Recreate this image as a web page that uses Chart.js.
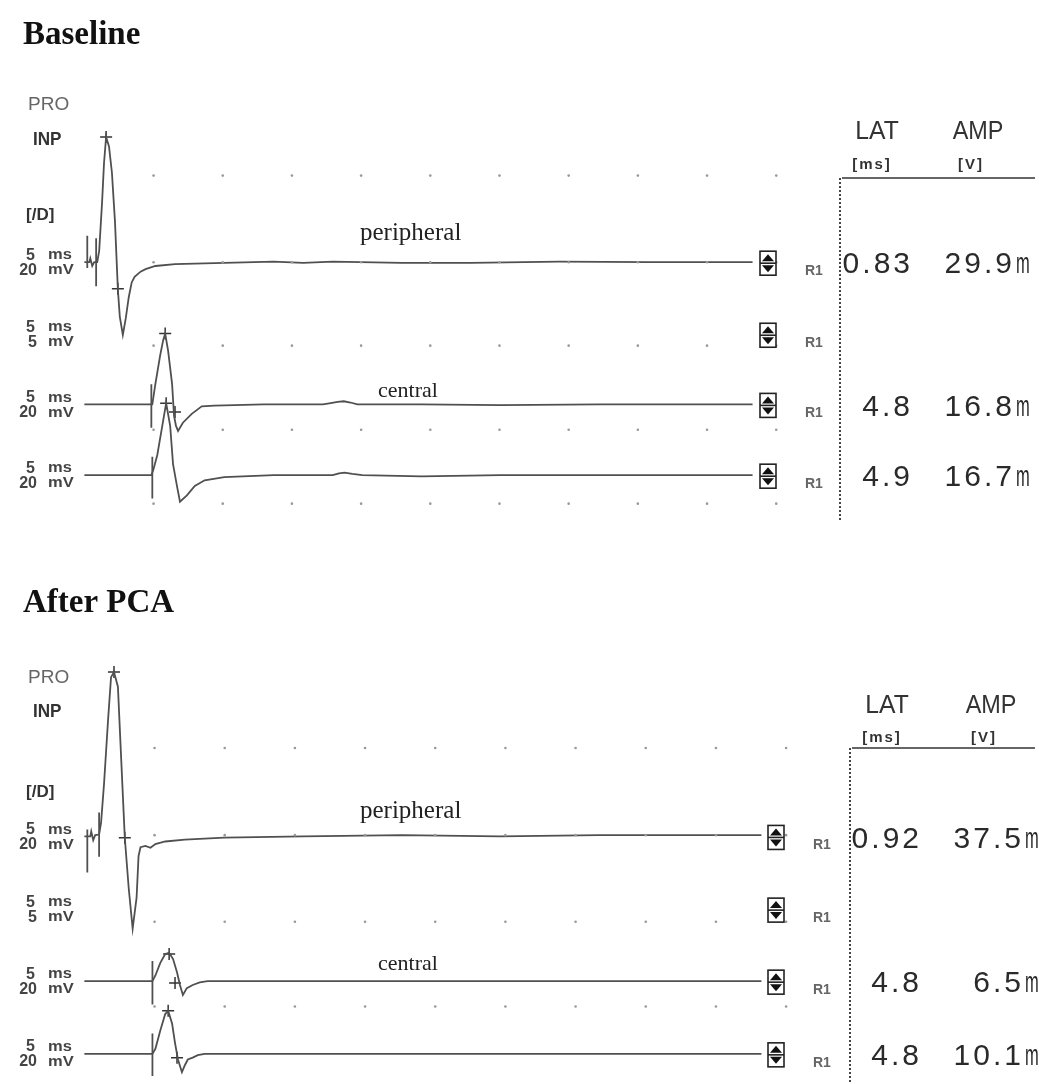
<!DOCTYPE html>
<html>
<head>
<meta charset="utf-8">
<script src="https://cdn.jsdelivr.net/npm/chart.js@4.4.1/dist/chart.umd.min.js"></script>
<style>
    body { margin: 0; background: #fff; }
    .panel { position: relative; width: 1039px; height: 542px; }
</style>
</head>
<body>
<div class="panel"><canvas id="baseline" width="1039" height="542"></canvas></div>
<div class="panel"><canvas id="afterPca" width="1039" height="542"></canvas></div>
<script>
// ==================== DONNEES ====================
// Chaque trace : [temps ms, amplitude mV] par rapport a sa ligne de base
const BASE_PERIPHERAL = [[0,0],[0.36,0],[0.43,0.6],[0.57,-0.6],[0.71,0],[0.93,0],[1.07,1.8],[1.28,9.5],[1.42,15.7],[1.57,19.8],[1.78,18.3],[1.99,14.2],[2.21,6.5],[2.42,-4.3],[2.56,-8.6],[2.78,-11.5],[2.99,-8.9],[3.21,-5.5],[3.42,-3.2],[3.63,-2.3],[4.06,-1.5],[4.42,-1.1],[5.13,-0.6],[6.55,-0.3],[8.69,-0.2],[13.68,0.1],[15.81,-0.1],[17.95,0.1],[22.93,-0.1],[27.92,-0.1],[34.33,0.1],[40.74,0],[48.29,0]];
const BASE_PERIPHERAL_MARKS = [[1.57,19.8],[2.42,-4.2]];
const BASE_PERIPHERAL_STIM = [[0.21,4.2,-0.9],[0.85,3.8,-3.8]];

const BASE_CENTRAL = [[0,0],[4.84,0],[4.91,0],[5.13,3.2],[5.48,7.8],[5.70,10.2],[5.84,11.2],[6.05,8.5],[6.34,3.2],[6.48,-1.8],[6.62,-3.4],[6.77,-4.2],[7.12,-2.9],[7.76,-1.5],[8.48,-0.3],[9.40,-0.2],[12.96,0],[17.24,0],[17.80,0.2],[18.30,0.4],[18.75,0.5],[19.23,0.3],[19.73,0],[24.36,0],[30.06,-0.1],[37.18,0],[48.29,0]];
const BASE_CENTRAL_MARKS = [[5.84,11.2],[6.55,-1.2]];
const BASE_CENTRAL_STIM = [[4.84,3.2,-3.7]];

const BASE_CENTRAL2 = [[0,0],[4.84,0],[4.99,0.9],[5.27,3.2],[5.63,7.8],[5.91,11.4],[6.20,7.8],[6.41,1.7],[6.70,-1.8],[6.91,-4.2],[7.41,-3.2],[7.98,-1.7],[8.69,-0.8],[10.11,-0.3],[13.68,0],[17.95,0],[18.40,0.3],[18.80,0.4],[19.37,0.2],[20.09,0],[24.36,-0.2],[30.06,0],[48.29,0]];
const BASE_CENTRAL2_MARKS = [[5.91,11.4]];
const BASE_CENTRAL2_STIM = [[4.91,2.9,-3.7]];

const PCA_PERIPHERAL = [[0,0],[0.42,0],[0.49,0.8],[0.63,-0.6],[0.77,0.2],[1.05,0.3],[1.19,2.2],[1.40,8.3],[1.69,18.5],[1.90,25.2],[2.11,26.0],[2.39,23.7],[2.60,13.4],[2.88,-0.2],[3.16,-8.2],[3.44,-14.6],[3.72,-9.7],[3.86,-3.1],[4.00,-1.7],[4.35,-1.5],[4.71,-1.8],[5.06,-1.2],[5.76,-0.8],[7.16,-0.5],[9.97,-0.2],[15.59,0],[22.61,0.2],[29.63,0],[36.66,0.2],[48.24,0.2]];
const PCA_PERIPHERAL_MARKS = [[2.11,26.0],[2.88,-0.2]];
const PCA_PERIPHERAL_STIM = [[0.21,1.1,-5.7],[1.05,3.8,-3.2]];

const PCA_CENTRAL = [[0,0],[4.85,0],[5.06,0.9],[5.41,2.9],[5.76,4.3],[6.04,4.5],[6.32,3.5],[6.60,1.4],[6.81,-0.6],[7.02,-2.2],[7.30,-1.1],[7.72,-0.6],[8.22,-0.2],[8.78,0],[48.24,0]];
const PCA_CENTRAL_MARKS = [[6.04,4.3],[6.46,-0.3]];
const PCA_CENTRAL_STIM = [[4.85,3.2,-3.7]];

const PCA_CENTRAL2 = [[0,0],[4.85,0],[5.06,0.8],[5.41,3.7],[5.76,6.3],[5.97,6.8],[6.25,4.8],[6.46,1.7],[6.67,-0.9],[6.95,-2.9],[7.16,-1.8],[7.37,-0.9],[7.72,-0.6],[8.08,-0.2],[8.57,0],[48.24,0]];
const PCA_CENTRAL2_MARKS = [[5.97,6.8],[6.60,-0.6]];
const PCA_CENTRAL2_STIM = [[4.85,3.2,-3.5]];

// lignes de base des 4 voies (mV, 0 = haut du panneau)
const BASE_ROWS = [-40.3, -51.7, -62.8, -74.0];
const PCA_ROWS = [-45.4, -56.9, -68.3, -79.8];

// grille pointillee
const GRID_MS = [5, 10, 15, 20, 25, 30, 35, 40, 45, 50];
const BASE_DOT_ROWS = [-26.6, -40.3, -53.5, -66.8, -78.5];
const PCA_DOT_ROWS = [-31.4, -45.2, -58.9, -72.3];

// echelles et resultats
const ROW_SCALES = [['5', 'ms', '20', 'mV'], ['5', 'ms', '5', 'mV'], ['5', 'ms', '20', 'mV'], ['5', 'ms', '20', 'mV']];
const BASE_LAT = ['0.83', '', '4.8', '4.9'];
const BASE_AMP = ['29.9', '', '16.8', '16.7'];
const PCA_LAT = ['0.92', '', '4.8', '4.8'];
const PCA_AMP = ['37.5', '', '6.5', '10.1'];

// ==================== MISE EN PAGE ====================
const W = 1039, H = 542, PX_PER_MV = 6.5, X0 = 78;
const TRACE_COLOR = '#505050';

function txt(ctx, s, x, y, font, color, align, baseline, sx, spacing) {
    ctx.save();
    ctx.font = font;
    ctx.fillStyle = color;
    ctx.textAlign = align || 'left';
    ctx.textBaseline = baseline || 'middle';
    if (spacing) ctx.letterSpacing = spacing;
    ctx.translate(x, y);
    ctx.scale(sx || 1, 1);
    ctx.fillText(s, 0, 0);
    ctx.restore();
}

function drawBox(ctx, cx, cy) {
    const w = 16, h = 24;
    ctx.save();
    ctx.fillStyle = '#fff';
    ctx.fillRect(cx - w / 2, cy - h / 2, w, h);
    ctx.strokeStyle = '#222';
    ctx.lineWidth = 1.6;
    ctx.strokeRect(cx - w / 2, cy - h / 2, w, h);
    ctx.beginPath();
    ctx.moveTo(cx - w / 2, cy);
    ctx.lineTo(cx + w / 2, cy);
    ctx.stroke();
    ctx.fillStyle = '#111';
    ctx.beginPath();
    ctx.moveTo(cx, cy - h / 2 + 3); ctx.lineTo(cx + 6, cy - 2); ctx.lineTo(cx - 6, cy - 2);
    ctx.fill();
    ctx.beginPath();
    ctx.moveTo(cx, cy + h / 2 - 3); ctx.lineTo(cx + 6, cy + 2); ctx.lineTo(cx - 6, cy + 2);
    ctx.fill();
    ctx.restore();
}

function panelPlugin(cfg) {
    return {
        id: 'panelText',
        afterDraw(chart) {
            const ctx = chart.ctx;
            const y = chart.scales.y;
            const L = cfg.layout;

            // titre
            txt(ctx, cfg.title, 23, L.titleY, 'bold 33px "Liberation Serif"', '#111', 'left', 'alphabetic');

            // entetes gauche
            txt(ctx, 'PRO', 28, L.pro, '19px "Liberation Sans"', '#666');
            txt(ctx, 'INP', 33, L.inp, 'bold 19px "Liberation Sans"', '#333', 'left', 'middle', 0.9);
            txt(ctx, '[/D]', 26, L.d, 'bold 17px "Liberation Sans"', '#333');

            // noms des voies
            L.names.forEach(([s, nx, ny, size]) => {
                txt(ctx, s, nx, ny, size + 'px "Liberation Serif"', '#222', 'left', 'alphabetic');
            });

            cfg.rows.forEach((row, i) => {
                const py = y.getPixelForValue(row);
                const sc = ROW_SCALES[i];
                txt(ctx, sc[0], 35, py - 7, 'bold 16px "Liberation Sans"', '#444', 'right');
                txt(ctx, sc[1], 48, py - 7, 'bold 15px "Liberation Sans"', '#444', 'left', 'middle', 1.1);
                txt(ctx, sc[2], 37, py + 8, 'bold 16px "Liberation Sans"', '#444', 'right');
                txt(ctx, sc[3], 48, py + 8, 'bold 15px "Liberation Sans"', '#444', 'left', 'middle', 1.1);

                drawBox(ctx, L.boxX, py + 1);
                txt(ctx, 'R1', L.boxX + 37, py + 9, 'bold 14px "Liberation Sans"', '#666');

                if (cfg.lat[i]) {
                    txt(ctx, cfg.lat[i], L.latRight, py + 3, '30px "Liberation Sans"', '#2a2a2a', 'right', 'middle', 1, '3px');
                }
                if (cfg.amp[i]) {
                    txt(ctx, cfg.amp[i], L.ampRight - 14, py + 3, '30px "Liberation Sans"', '#2a2a2a', 'right', 'middle', 1, '3px');
                    txt(ctx, 'm', L.ampRight - 13, py + 3, '30px "Liberation Sans"', '#2a2a2a', 'left', 'middle', 0.55);
                }
            });

            // tableau LAT / AMP
            txt(ctx, 'LAT', L.latX, L.headY, '26px "Liberation Sans"', '#333', 'center', 'middle', 0.95);
            txt(ctx, 'AMP', L.ampX, L.headY, '26px "Liberation Sans"', '#333', 'center', 'middle', 0.9);
            txt(ctx, '[ms]', L.latX - 5, L.unitY, 'bold 15px "Liberation Sans"', '#333', 'center', 'middle', 1, '2px');
            txt(ctx, '[V]', L.ampX - 7, L.unitY, 'bold 15px "Liberation Sans"', '#333', 'center', 'middle', 1, '2px');

            ctx.save();
            ctx.strokeStyle = '#333';
            ctx.lineWidth = 1.3;
            ctx.beginPath();
            ctx.moveTo(L.divX + 2, L.ruleY);
            ctx.lineTo(W - 4, L.ruleY);
            ctx.stroke();
            ctx.setLineDash([2, 2]);
            ctx.lineWidth = 2;
            ctx.strokeStyle = '#444';
            ctx.beginPath();
            ctx.moveTo(L.divX, L.ruleY);
            ctx.lineTo(L.divX, L.divBottom);
            ctx.stroke();
            ctx.restore();
        }
    };
}

function lineDataset(wave, row) {
    return {
        data: wave.map(([t, v]) => ({ x: t, y: row + v })),
        showLine: true,
        borderColor: TRACE_COLOR,
        borderWidth: 1.8,
        pointRadius: 0,
        tension: 0
    };
}

function stimDataset(stim, row) {
    const data = [];
    stim.forEach(([t, top, bottom]) => {
        data.push({ x: t, y: row + top }, { x: t, y: row + bottom }, { x: t, y: null });
    });
    return {
        data: data,
        showLine: true,
        spanGaps: false,
        borderColor: TRACE_COLOR,
        borderWidth: 1.8,
        pointRadius: 0
    };
}

function markDataset(marks, row) {
    return {
        data: marks.map(([t, v]) => ({ x: t, y: row + v })),
        showLine: false,
        pointStyle: 'cross',
        pointRadius: 6,
        borderWidth: 1.5,
        borderColor: '#333'
    };
}

function dotDataset(dotRows) {
    const data = [];
    dotRows.forEach(r => GRID_MS.forEach(t => data.push({ x: t, y: r })));
    return {
        data: data,
        showLine: false,
        pointRadius: 1.3,
        pointBorderWidth: 0,
        backgroundColor: '#999',
        borderColor: '#999'
    };
}

function makePanel(id, cfg) {
    const datasets = [dotDataset(cfg.dotRows)];
    cfg.traces.forEach(tr => {
        const row = cfg.rows[tr.row];
        datasets.push(lineDataset(tr.wave, row));
        datasets.push(stimDataset(tr.stim, row));
        datasets.push(markDataset(tr.marks, row));
    });

    return new Chart(document.getElementById(id), {
        type: 'scatter',
        data: { datasets },
        options: {
            responsive: false,
            animation: false,
            devicePixelRatio: 1,
            events: [],
            layout: { padding: 0 },
            plugins: { legend: { display: false }, tooltip: { enabled: false } },
            scales: {
                x: { type: 'linear', display: false, min: -X0 / cfg.pxPerMs, max: (W - X0) / cfg.pxPerMs },
                y: { type: 'linear', display: false, min: -H / PX_PER_MV, max: 0 }
            }
        },
        plugins: [panelPlugin(cfg)]
    });
}

// ==================== INITIALISATION ====================
makePanel('baseline', {
    title: 'Baseline',
    pxPerMs: 14.04,
    rows: BASE_ROWS,
    dotRows: BASE_DOT_ROWS,
    lat: BASE_LAT,
    amp: BASE_AMP,
    traces: [
        { row: 0, wave: BASE_PERIPHERAL, marks: BASE_PERIPHERAL_MARKS, stim: BASE_PERIPHERAL_STIM },
        { row: 2, wave: BASE_CENTRAL, marks: BASE_CENTRAL_MARKS, stim: BASE_CENTRAL_STIM },
        { row: 3, wave: BASE_CENTRAL2, marks: BASE_CENTRAL2_MARKS, stim: BASE_CENTRAL2_STIM }
    ],
    layout: {
        titleY: 44, pro: 105, inp: 140, d: 215,
        names: [['peripheral', 360, 240, 25], ['central', 378, 397, 22]],
        boxX: 768, latRight: 913, ampRight: 1029,
        latX: 877, ampX: 978, headY: 132, unitY: 165,
        ruleY: 178, divX: 840, divBottom: 520
    }
});

makePanel('afterPca', {
    title: 'After PCA',
    pxPerMs: 14.24,
    rows: PCA_ROWS,
    dotRows: PCA_DOT_ROWS,
    lat: PCA_LAT,
    amp: PCA_AMP,
    traces: [
        { row: 0, wave: PCA_PERIPHERAL, marks: PCA_PERIPHERAL_MARKS, stim: PCA_PERIPHERAL_STIM },
        { row: 2, wave: PCA_CENTRAL, marks: PCA_CENTRAL_MARKS, stim: PCA_CENTRAL_STIM },
        { row: 3, wave: PCA_CENTRAL2, marks: PCA_CENTRAL2_MARKS, stim: PCA_CENTRAL2_STIM }
    ],
    layout: {
        titleY: 70, pro: 136, inp: 170, d: 250,
        names: [['peripheral', 360, 276, 25], ['central', 378, 428, 22]],
        boxX: 776, latRight: 922, ampRight: 1038,
        latX: 887, ampX: 991, headY: 164, unitY: 196,
        ruleY: 206, divX: 850, divBottom: 542
    }
});
</script>
</body>
</html>
